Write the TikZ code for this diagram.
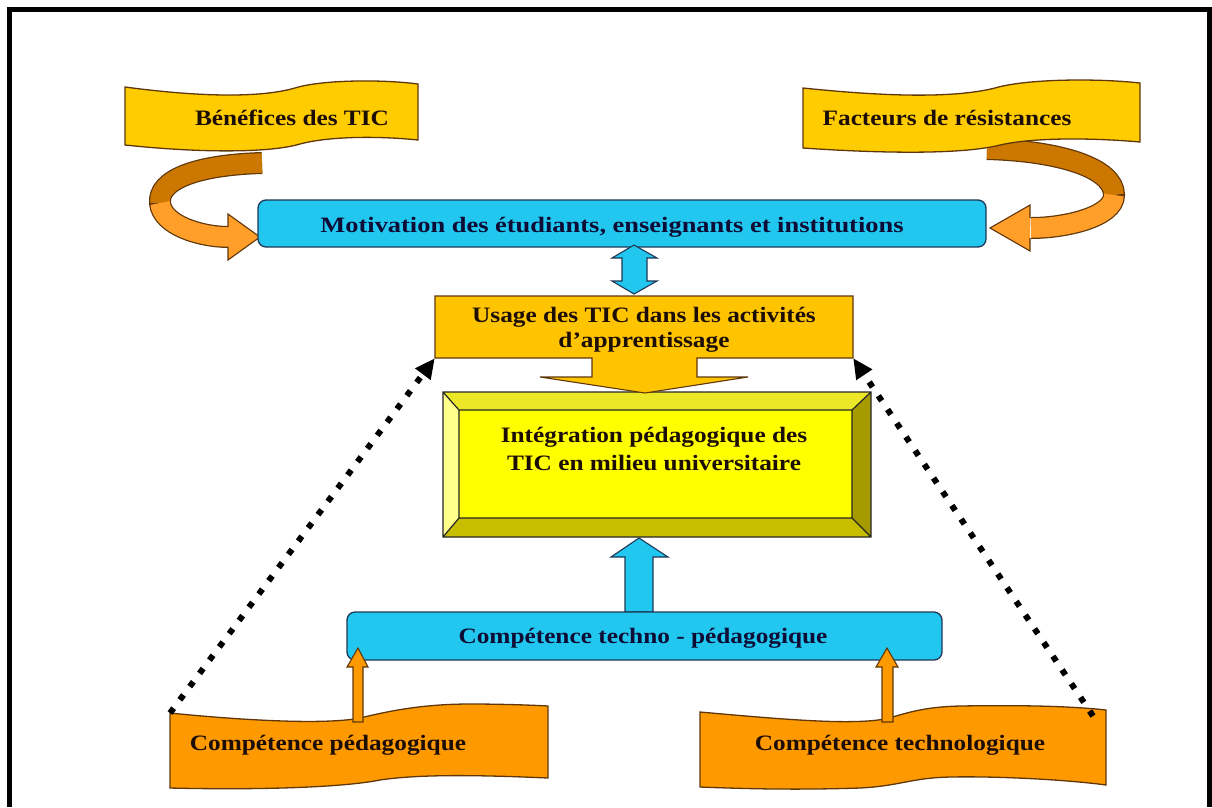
\documentclass[tikz,border=0pt]{standalone}
\usepackage{fontspec}
\setmainfont{Liberation Serif}
\usetikzlibrary{arrows.meta,calc}
\definecolor{gold}{RGB}{255,204,0}
\definecolor{goldb}{RGB}{255,196,0}
\definecolor{cyanb}{RGB}{34,199,240}
\definecolor{orng}{RGB}{255,153,0}
\definecolor{orngd}{RGB}{204,120,0}
\definecolor{orngl}{RGB}{255,158,40}
\definecolor{edge}{RGB}{95,55,10}
\definecolor{bedge}{RGB}{30,55,85}
\definecolor{ink}{RGB}{28,14,4}
\definecolor{navy}{RGB}{12,12,52}
\definecolor{bvface}{RGB}{255,255,0}
\definecolor{bvtop}{RGB}{236,232,40}
\definecolor{bvleft}{RGB}{255,255,140}
\definecolor{bvright}{RGB}{165,155,0}
\definecolor{bvbot}{RGB}{200,190,0}
\tikzset{
  lbl/.style={font=\bfseries\fontsize{22}{27}\selectfont, text=ink, align=center, xscale=1.15, inner sep=0pt},
  bluebox/.style={draw=bedge, line width=1.3pt, fill=cyanb, rounded corners=8pt, inner sep=0pt},
  banner/.style={draw=edge, line width=1.3pt},
  blockarrow/.style={draw=edge, line width=1.1pt},
  dotline/.style={line width=6pt, dash pattern=on 6pt off 10.5pt, -{Triangle[length=20pt,width=18pt]}},
}
\begin{document}
\begin{tikzpicture}[x=1pt,y=-1pt]
\useasboundingbox (0,0) rectangle (1212,807);
% frame
\draw[line width=5pt] (9.5,807) -- (9.5,9.5) -- (1209.5,9.5) -- (1209.5,807);

% curved ribbon arrows (drawn before banners)
\draw[edge, line width=22pt] (262,163) .. controls (195,165) and (158,180) .. (160,203)
      .. controls (162,225) and (200,237) .. (229,237);
\draw[orngd, line width=19.5pt] (262,163) .. controls (195,165) and (158,180) .. (160,203);
\draw[orngl, line width=19.5pt] (160,203) .. controls (162,225) and (200,237) .. (229,237);
\path[fill=orngl, draw=edge, line width=1.1pt] (228,227) -- (228,214) -- (260,237) -- (228,260) -- (228,247);

\draw[edge, line width=22pt] (987,149) .. controls (1060,151) and (1114,168) .. (1114,195)
      .. controls (1114,217) and (1065,228) .. (1031,228);
\draw[orngd, line width=19.5pt] (987,149) .. controls (1060,151) and (1114,168) .. (1114,195);
\draw[orngl, line width=19.5pt] (1114,195) .. controls (1114,217) and (1065,228) .. (1031,228);
\path[fill=orngl, draw=edge, line width=1.1pt] (1030,218) -- (1030,205) -- (990,228) -- (1030,251) -- (1030,238);

% top banners
\draw[banner, fill=gold] (125,87) .. controls (200,97) and (260,98) .. (295,88)
   .. controls (320,80) and (380,79) .. (418,84) -- (418,140)
   .. controls (380,136) and (330,136) .. (300,144)
   .. controls (270,153) and (200,153) .. (125,145) -- cycle;
\node[lbl] (benef) at (292,118) {Bénéfices des TIC};

\draw[banner, fill=gold] (803,88) .. controls (890,97) and (955,98) .. (995,88)
   .. controls (1025,79) and (1095,78) .. (1140,83) -- (1140,142)
   .. controls (1095,138) and (1035,137) .. (1000,145)
   .. controls (965,154) and (890,154) .. (803,148) -- cycle;
\node[lbl] (resist) at (947,118) {Facteurs de résistances};

% motivation box
\node[bluebox, minimum width=728pt, minimum height=47pt] (motiv) at (622,223.5) {};
\node[lbl, text=navy, xscale=1.045] (motivtxt) at (612,227) {Motivation des étudiants, enseignants et institutions};

% double arrow
\draw[blockarrow, draw=bedge, fill=cyanb] (634,245) -- (657,258) -- (647,258) -- (647,281) -- (657,281)
   -- (634,294) -- (612,281) -- (622,281) -- (622,258) -- (612,258) -- cycle;

% bevel box
\fill[bvtop] (443,392) -- (871,392) -- (852,410) -- (459,410) -- cycle;
\fill[bvleft] (443,392) -- (459,410) -- (459,518) -- (443,537) -- cycle;
\fill[bvright] (871,392) -- (871,537) -- (852,518) -- (852,410) -- cycle;
\fill[bvbot] (443,537) -- (871,537) -- (852,518) -- (459,518) -- cycle;
\fill[bvface] (459,410) rectangle (852,518);
\draw[line width=1.2pt, draw=black!85] (443,392) rectangle (871,537) (459,410) rectangle (852,518)
   (443,392) -- (459,410) (871,392) -- (852,410) (443,537) -- (459,518) (871,537) -- (852,518);
\node[inner sep=0pt, minimum width=428pt, minimum height=145pt] (integ) at (657,464.5) {};
\node[lbl, font=\bfseries\fontsize{22}{28}\selectfont] (integtxt) at (654,449) {Intégration pédagogique des\\TIC en milieu universitaire};

% usage box with down arrow
\draw[blockarrow, fill=goldb] (435,296) -- (853,296) -- (853,358) -- (697,358) -- (697,377) -- (748,377)
   -- (645,393) -- (540,377) -- (592,377) -- (592,358) -- (435,358) -- cycle;
\node[inner sep=0pt, minimum width=418pt, minimum height=62pt] (usage) at (644,327) {};
\node[lbl, font=\bfseries\fontsize{22}{25}\selectfont] (usagetxt) at (644,330) {Usage des TIC dans les activités\\d’apprentissage};

% up blue arrow
\draw[blockarrow, draw=bedge, fill=cyanb] (639,538) -- (668,557) -- (653,557) -- (653,612) -- (625,612)
   -- (625,557) -- (611,557) -- cycle;

% competence techno-pedagogique box
\node[bluebox, minimum width=595pt, minimum height=48pt] (comp) at (644.5,636) {};
\node[lbl, text=navy] (comptxt) at (643,638) {Compétence techno - pédagogique};

% bottom banners
\draw[banner, fill=orng] (170,713) .. controls (260,722) and (330,724) .. (360,718)
   .. controls (385,712) and (420,704) .. (470,704) .. controls (500,704) and (530,705) .. (548,706)
   -- (548,778) .. controls (480,775) and (420,774) .. (380,780)
   .. controls (340,788) and (250,790) .. (170,788) -- cycle;
\node[lbl] (pedag) at (328,745) {Compétence pédagogique};
\coordinate (pedagc) at (170,713);

\draw[banner, fill=orng] (700,712) .. controls (790,720) and (850,725) .. (885,719)
   .. controls (905,714) and (920,707) .. (960,706) .. controls (1020,705) and (1070,706) .. (1106,710)
   -- (1106,785) .. controls (1070,780) and (1000,776) .. (950,777)
   .. controls (910,778) and (900,786) .. (860,788) .. controls (800,790) and (750,789) .. (700,787) -- cycle;
\node[lbl] (techno) at (900,745) {Compétence technologique};
\coordinate (technoc) at (1093,716);

% small orange up arrows
\draw[blockarrow, fill=orng] (358,648) -- (368,667) -- (363,667) -- (363,722) -- (353,722) -- (353,667) -- (347,667) -- cycle;
\draw[blockarrow, fill=orng] (887,648) -- (898,667) -- (893,667) -- (893,722) -- (882,722) -- (882,667) -- (876,667) -- cycle;

% dotted connectors
\draw[dotline] (pedagc) -- (usage.south west);
\draw[dotline] (technoc) -- (usage.south east);
\end{tikzpicture}
\end{document}
